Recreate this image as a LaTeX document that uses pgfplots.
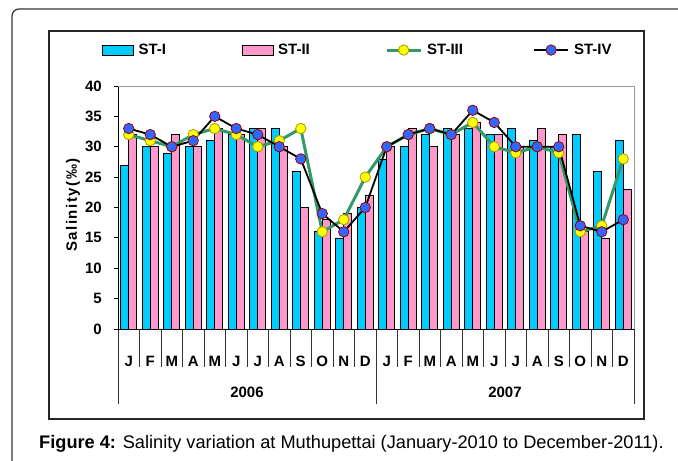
\documentclass[border=0pt]{standalone}
\usepackage{fontspec}
\setmainfont{Liberation Sans}
\usepackage{pgfplots}
\usepackage{pgfplotstable}
\pgfplotsset{compat=1.18}
\definecolor{cyanbar}{HTML}{00CCFF}
\definecolor{cyandark}{HTML}{005A70}
\definecolor{cyanedge}{HTML}{009CC4}
\definecolor{pinkbar}{HTML}{FF99CC}
\definecolor{pinkdark}{HTML}{6E3A55}
\definecolor{pinkedge}{HTML}{E585B5}
\definecolor{stgreen}{HTML}{339966}
\definecolor{styellow}{HTML}{FFFF00}
\definecolor{styellowedge}{HTML}{A89A00}
\definecolor{stblue}{HTML}{3366FF}
\definecolor{stblueedge}{HTML}{990000}

% bar fills: dark strip on the left, bright body, slightly darker right edge
\pgfdeclarehorizontalshading{cyanshade}{100bp}{color(0bp)=(cyandark); color(25bp)=(cyanbar); color(72bp)=(cyanbar); color(100bp)=(cyanedge)}
\pgfdeclarehorizontalshading{pinkshade}{100bp}{color(0bp)=(pinkdark); color(25bp)=(pinkbar); color(72bp)=(pinkbar); color(100bp)=(pinkedge)}

\pgfplotsset{
  bar legend/.style={legend image code/.code={\draw[##1] (0bp,-5bp) rectangle (31bp,5bp);}},
  dot legend/.style={legend image code/.code={\draw[mark repeat=2,mark phase=2,##1] plot coordinates {(0bp,0bp) (17bp,0bp) (34bp,0bp)};}},
}

% month index, ST-I, ST-II, ST-III, ST-IV (2006 then 2007)
\pgfplotstableread{
m  st1 st2 st3 st4
0  27  32  32  33
1  30  30  31  32
2  29  32  30  30
3  30  30  32  31
4  31  33  33  35
5  32  32  32  33
6  33  33  30  32
7  33  30  31  30
8  26  20  33  28
9  16  18  16  19
10 15  19  18  16
11 20  22  25  20
12 28  30  30  30
13 30  33  32  32
14 32  30  33  33
15 33  32  32  32
16 33  34  34  36
17 32  32  30  34
18 33  30  29  30
19 31  33  30  30
20 30  32  29  30
21 32  16  16  17
22 26  15  17  16
23 31  23  28  18
}\salinity

\newcommand{\lbl}{\bfseries\fontsize{15bp}{18bp}\selectfont}

\begin{document}
\begin{tikzpicture}
\useasboundingbox (0,0) rectangle (678bp,461bp);
% page frame and chart box
\draw[black!80, line width=1.2bp, rounded corners=7bp] (12bp,-2bp) -- (12bp,452bp) -- (690bp,452bp);
\draw[black!85, line width=1.3bp] (49bp,42bp) rectangle (644bp,430bp);

\begin{axis}[
  at={(118bp,132bp)}, anchor=south west,
  scale only axis, width=516bp, height=243bp,
  xmin=-0.5, xmax=23.5, ymin=0, ymax=40,
  clip=false,
  axis x line*=bottom, axis y line*=left,
  axis line style={black, line width=0.8bp},
  xtick={0,...,23},
  xticklabels={J,F,M,A,M,J,J,A,S,O,N,D,J,F,M,A,M,J,J,A,S,O,N,D},
  xtick style={draw=none},
  ytick={0,5,...,40},
  ytick style={black, line width=0.8bp},
  tick align=outside, major tick length=4bp,
  ticklabel style={font=\lbl},
  /pgf/number format/assume math mode=true,
  xticklabel style={anchor=base, inner sep=0pt, yshift=-33bp},
  yticklabel style={anchor=east, inner sep=0pt, xshift=-12bp},
  ylabel={Salinity(‰)},
  ylabel style={font=\lbl\addfontfeature{LetterSpace=10}, at={(axis description cs:-0.0872,0.51)}, anchor=center},
  legend columns=4,
  legend style={at={(axis description cs:-0.031,1.148)}, anchor=west,
    draw=none, fill=none, inner sep=0pt, outer sep=0pt, font=\lbl,
    nodes={inner sep=0pt},
    /tikz/every odd column/.append style={column sep=5bp}},
]
\addplot[ybar, bar width=0.37, bar shift=-0.185, draw=black, line width=0.6bp,
  shade, shading=cyanshade, bar legend]
  table[x=m, y=st1] {\salinity};
\addplot[ybar, bar width=0.37, bar shift=0.185, draw=black, line width=0.6bp,
  shade, shading=pinkshade, bar legend]
  table[x=m, y=st2] {\salinity};
\addplot[stgreen, line width=3bp, mark=*, mark size=5.2bp,
  mark options={fill=styellow, draw=styellowedge, line width=0.8bp}, dot legend]
  table[x=m, y=st3] {\salinity};
\addplot[black, line width=1.8bp, mark=*, mark size=5.2bp,
  mark options={fill=stblue, draw=stblueedge, line width=0.8bp}, dot legend]
  table[x=m, y=st4] {\salinity};
\legend{\makebox[103bp][l]{ST-I},\makebox[107bp][l]{ST-II},\makebox[106bp][l]{ST-III},ST-IV}

% plot area border, month and year separators
\draw[gray!80, line width=0.8bp] (rel axis cs:0,1) -- (rel axis cs:1,1) -- (rel axis cs:1,0);
\pgfplotsinvokeforeach{-0.5,0.5,...,23.5}{\draw[black!80, line width=0.8bp] (axis cs:#1,0) -- ++(0bp,-38bp);}
\pgfplotsinvokeforeach{-0.5,11.5,23.5}{\draw[black!80, line width=0.8bp] (axis cs:#1,0) -- ++(0bp,-75bp);}
\node[font=\lbl, yshift=-63bp] at (axis cs:5.5,0) {2006};
\node[font=\lbl, yshift=-63bp] at (axis cs:17.5,0) {2007};
\end{axis}

\node[anchor=base west, inner sep=0pt, font=\fontsize{18.2bp}{21bp}\selectfont] at (39bp,12.7bp)
  {\textbf{Figure 4:} Salinity variation at Muthupettai (January-2010 to December-2011).};
\end{tikzpicture}
\end{document}
